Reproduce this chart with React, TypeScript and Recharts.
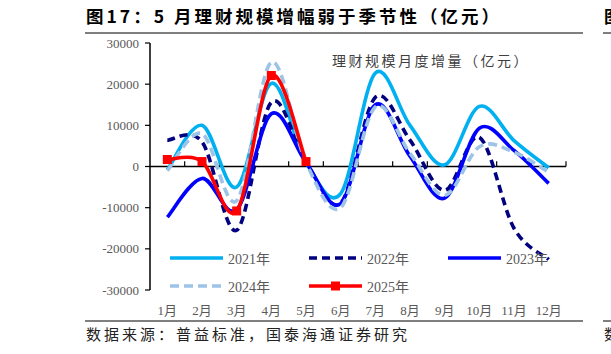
import { LineChart, Line, XAxis, YAxis, ReferenceLine, Legend } from "recharts";

const months = ["1月", "2月", "3月", "4月", "5月", "6月", "7月", "8月", "9月", "10月", "11月", "12月"];
const tickPos = [0.5, 1.5, 2.5, 3.5, 4.5, 5.5, 6.5, 7.5, 8.5, 9.5, 10.5, 11.5];
const boundaries = [1, 2, 3, 4, 5, 6, 7, 8, 9, 10, 11, 12];
const yTicks = [-30000, -20000, -10000, 0, 10000, 20000, 30000];

const s2021 = [-800, 10000, -5000, 20200, 1000, -6600, 22700, 10000, 400, 14600, 6300, -300];
const s2022 = [6400, 6000, -15500, 15600, 1000, -8900, 16800, 6400, -5800, 7100, -15000, -22600];
const s2023 = [-12300, -2900, -10500, 12800, 1000, -9000, 15000, 2500, -7700, 9300, 3900, -4100];
const s2024 = [-1000, 8000, -8300, 25300, 1000, -10000, 14500, 3200, -7000, 4800, 3500, -1400];
const s2025 = [1700, 1200, -10800, 22100, 1200];

const series = [
  { key: "y2021", name: "2021年", color: "#00B0F0", dash: undefined as string | undefined, marker: false },
  { key: "y2022", name: "2022年", color: "#000080", dash: "8 5", marker: false },
  { key: "y2023", name: "2023年", color: "#0000FF", dash: undefined, marker: false },
  { key: "y2024", name: "2024年", color: "#9DC3E6", dash: "9 5", marker: false },
  { key: "y2025", name: "2025年", color: "#FF0000", dash: undefined, marker: true },
];

const data = months.map((m, i) => ({
  x: tickPos[i],
  month: m,
  y2021: s2021[i],
  y2022: s2022[i],
  y2023: s2023[i],
  y2024: s2024[i],
  y2025: i < s2025.length ? s2025[i] : null,
}));

const serif = "'Liberation Serif', 'Noto Sans CJK SC', serif";
const cjk = "'Noto Sans CJK SC', sans-serif";

// Excel-style smoothed line (Catmull-Rom through the points)
function smoothCurve(context: any) {
  let pts: number[][] = [];
  return {
    areaStart() {},
    areaEnd() {},
    lineStart() {
      pts = [];
    },
    point(x: number, y: number) {
      pts.push([+x, +y]);
    },
    lineEnd() {
      const n = pts.length;
      if (!n) return;
      context.moveTo(pts[0][0], pts[0][1]);
      for (let i = 0; i < n - 1; i++) {
        const p0 = pts[i - 1] || pts[i];
        const p1 = pts[i];
        const p2 = pts[i + 1];
        const p3 = pts[i + 2] || p2;
        context.bezierCurveTo(
          p1[0] + (p2[0] - p0[0]) / 6,
          p1[1] + (p2[1] - p0[1]) / 6,
          p2[0] - (p3[0] - p1[0]) / 6,
          p2[1] - (p3[1] - p1[1]) / 6,
          p2[0],
          p2[1]
        );
      }
    },
  };
}

const SquareDot = (props: any) => {
  const { cx, cy, index } = props;
  if (cx == null || cy == null) return <g key={`d${index}`} />;
  return <rect key={`d${index}`} x={cx - 4.5} y={cy - 4.5} width={9} height={9} fill="#FF0000" />;
};

const renderLegend = () => (
  <div style={{ display: "grid", gridTemplateColumns: "139px 139px 139px" }}>
    {series.map((s) => (
      <div key={s.key} style={{ display: "flex", alignItems: "center", height: 28 }}>
        <svg width={53} height={12}>
          <line x1={0} y1={6} x2={53} y2={6} stroke={s.color} strokeWidth={3.5} strokeDasharray={s.dash} />
          {s.marker && <rect x={22} y={1.5} width={9} height={9} fill={s.color} />}
        </svg>
        <span style={{ marginLeft: 5, fontFamily: serif, fontSize: 14, color: "#595959" }}>{s.name}</span>
      </div>
    ))}
  </div>
);

export default function App() {
  return (
    <div
      style={{
        position: "absolute",
        left: 0,
        top: 0,
        width: 611,
        height: 354,
        overflow: "hidden",
        background: "#fff",
      }}
    >
      <div
        style={{
          position: "absolute",
          left: 86,
          top: 3,
          fontFamily: cjk,
          fontWeight: 700,
          fontSize: 17.5,
          letterSpacing: 3,
          color: "#000",
          whiteSpace: "nowrap",
        }}
      >
        图17：5 月理财规模增幅弱于季节性（亿元）
      </div>
      <div style={{ position: "absolute", left: 604, top: 3, fontFamily: cjk, fontWeight: 700, fontSize: 17 }}>图</div>
      <div style={{ position: "absolute", left: 85, top: 32, width: 498, height: 2, background: "#7f7f7f" }} />
      <div style={{ position: "absolute", left: 603, top: 32, width: 10, height: 2, background: "#7f7f7f" }} />

      <LineChart
        width={611}
        height={354}
        data={data}
        margin={{ top: 43, right: 45, left: 0, bottom: 34 }}
        style={{ position: "absolute", left: 0, top: 0 }}
      >
        <XAxis
          type="number"
          dataKey="x"
          domain={[0, 12]}
          ticks={tickPos}
          tickFormatter={(v: number) => months[Math.floor(v)]}
          axisLine={false}
          tickLine={false}
          tickMargin={10}
          height={30}
          interval={0}
          tick={{ fill: "#595959", fontSize: 13, fontFamily: serif }}
        />
        <YAxis
          width={150}
          domain={[-30000, 30000]}
          ticks={yTicks}
          interval={0}
          axisLine={{ stroke: "#000", strokeWidth: 1.5 }}
          tickLine={{ stroke: "#000", strokeWidth: 1.2 }}
          tickSize={5}
          tickMargin={6}
          tick={{ fill: "#595959", fontSize: 13, fontFamily: serif }}
        />
        <ReferenceLine y={0} stroke="#000" strokeWidth={1.5} />
        {boundaries.map((b) => (
          <ReferenceLine
            key={`b${b}`}
            segment={[
              { x: b, y: 0 },
              { x: b, y: 1300 },
            ]}
            stroke="#000"
            strokeWidth={1.2}
          />
        ))}
        {series.map((s) => (
          <Line
            key={s.key}
            dataKey={s.key}
            name={s.name}
            type={smoothCurve as any}
            stroke={s.color}
            strokeWidth={3.6}
            strokeDasharray={s.dash}
            dot={s.marker ? SquareDot : false}
            activeDot={false}
            connectNulls={false}
            isAnimationActive={false}
          />
        ))}
        <Legend
          layout="horizontal"
          verticalAlign="middle"
          align="center"
          content={renderLegend}
          wrapperStyle={{ position: "absolute", left: 170, top: 244, width: 430 }}
        />
      </LineChart>

      <div
        style={{
          position: "absolute",
          left: 332,
          top: 50,
          fontFamily: cjk,
          fontSize: 14,
          letterSpacing: 2.5,
          color: "#404040",
          whiteSpace: "nowrap",
        }}
      >
        理财规模月度增量（亿元）
      </div>

      <div style={{ position: "absolute", left: 85, top: 320, width: 498, height: 2, background: "#7f7f7f" }} />
      <div style={{ position: "absolute", left: 603, top: 320, width: 10, height: 2, background: "#7f7f7f" }} />
      <div
        style={{
          position: "absolute",
          left: 86,
          top: 323,
          fontFamily: cjk,
          fontSize: 15,
          letterSpacing: 3,
          color: "#222",
          whiteSpace: "nowrap",
        }}
      >
        数据来源：普益标准，国泰海通证券研究
      </div>
      <div style={{ position: "absolute", left: 604, top: 323, fontFamily: cjk, fontSize: 15, color: "#222" }}>数</div>
    </div>
  );
}
